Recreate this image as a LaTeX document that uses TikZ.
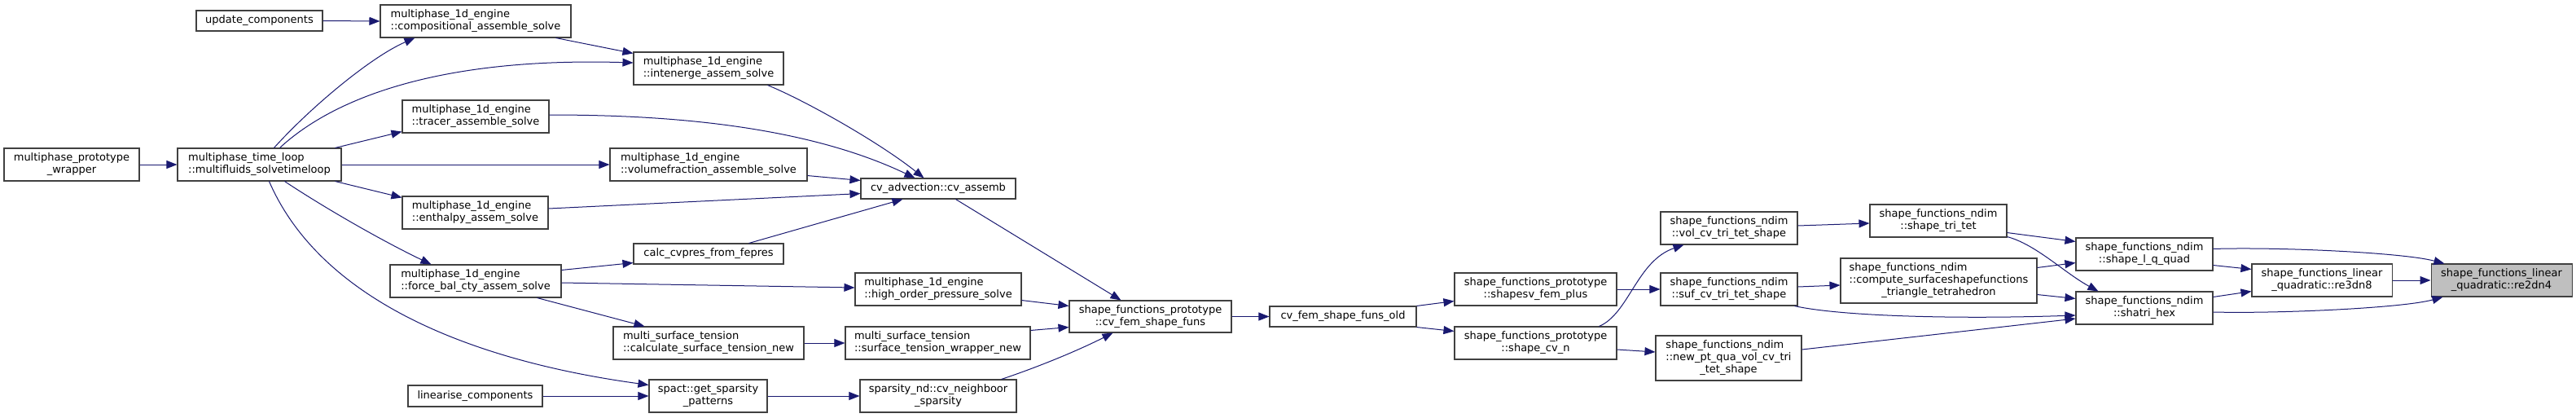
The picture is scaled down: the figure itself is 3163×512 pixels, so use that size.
\documentclass[tikz,border=0pt]{standalone}
\usepackage{fontspec}
\setmainfont{DejaVu Sans}
\usetikzlibrary{arrows.meta}
\definecolor{edgecol}{HTML}{191970}
\definecolor{bordercol}{HTML}{404040}
\definecolor{hlfill}{HTML}{BFBFBF}
\tikzset{
  nbox/.style={draw=bordercol, line width=0.8pt, fill=white, rectangle, inner sep=0pt,
    font=\fontsize{9.75pt}{11.25pt}\selectfont},
  callarrow/.style={draw=edgecol, line width=0.75pt, -{Triangle[length=9.75pt,width=7.5pt]}}
}
\newcommand\mknode[7][]{\node[nbox,#1,minimum width={(#5-#3)*0.75pt},minimum height={(#6-#4)*0.75pt}] (#2) at ({(#3+#5)/2},{(#4+#6)/2}) {#7};}
\newcommand\threel[3]{\begin{tabular}{@{}l@{}}#1\\#2\\\multicolumn{1}{@{}c@{}}{#3}\end{tabular}}
\begin{document}
\begin{tikzpicture}[x=0.75pt,y=-0.75pt]
\useasboundingbox (0,0) rectangle (3163,512);
\mknode{uc}{241}{13}{396}{38}{update\_components}
\mknode[align=left]{cas}{467}{6}{701}{46}{multiphase\_1d\_engine\\::compositional\_assemble\_solve}
\mknode[align=center]{pw}{5}{182}{171}{222}{multiphase\_prototype\\\_wrapper}
\mknode[align=left]{tl}{218}{182}{419}{222}{multiphase\_time\_loop\\::multifluids\_solvetimeloop}
\mknode[align=left]{tas}{494}{123}{674}{163}{multiphase\_1d\_engine\\::tracer\_assemble\_solve}
\mknode[align=left]{eas}{494}{241}{673}{281}{multiphase\_1d\_engine\\::enthalpy\_assem\_solve}
\mknode[align=left]{fb}{479}{325}{689}{365}{multiphase\_1d\_engine\\::force\_bal\_cty\_assem\_solve}
\mknode{lc}{501}{473}{666}{499}{linearise\_components}
\mknode[align=left]{ias}{778}{64}{962}{104}{multiphase\_1d\_engine\\::intenerge\_assem\_solve}
\mknode[align=left]{vfa}{749}{182}{991}{222}{multiphase\_1d\_engine\\::volumefraction\_assemble\_solve}
\mknode{ccp}{778}{299}{962}{324}{calc\_cvpres\_from\_fepres}
\mknode[align=left]{cst}{753}{401}{987}{441}{multi\_surface\_tension\\::calculate\_surface\_tension\_new}
\mknode[align=center]{gsp}{797}{466}{942}{506}{spact::get\_sparsity\\\_patterns}
\mknode{cva}{1057}{219}{1247}{244}{cv\_advection::cv\_assemb}
\mknode[align=left]{hop}{1050}{335}{1254}{375}{multiphase\_1d\_engine\\::high\_order\_pressure\_solve}
\mknode[align=left]{stw}{1038}{401}{1265}{441}{multi\_surface\_tension\\::surface\_tension\_wrapper\_new}
\mknode[align=center]{cns}{1056}{466}{1248}{506}{sparsity\_nd::cv\_neighboor\\\_sparsity}
\mknode[align=center]{cfs}{1313}{369}{1512}{408}{shape\_functions\_prototype\\::cv\_fem\_shape\_funs}
\mknode{cfo}{1559}{376}{1739}{401}{cv\_fem\_shape\_funs\_old}
\mknode[align=center]{sfp}{1786}{335}{1985}{375}{shape\_functions\_prototype\\::shapesv\_fem\_plus}
\mknode[align=center]{scn}{1786}{401}{1985}{441}{shape\_functions\_prototype\\::shape\_cv\_n}
\mknode[align=center]{vol}{2039}{260}{2207}{300}{shape\_functions\_ndim\\::vol\_cv\_tri\_tet\_shape}
\mknode[align=center]{suf}{2039}{335}{2207}{375}{shape\_functions\_ndim\\::suf\_cv\_tri\_tet\_shape}
\mknode{npq}{2033}{412}{2212}{467}{\threel{shape\_functions\_ndim}{::new\_pt\_qua\_vol\_cv\_tri}{\_tet\_shape}}
\mknode[align=center]{stt}{2296}{251}{2464}{291}{shape\_functions\_ndim\\::shape\_tri\_tet}
\mknode{css}{2260}{317}{2501}{372}{\threel{shape\_functions\_ndim}{::compute\_surfaceshapefunctions}{\_triangle\_tetrahedron}}
\mknode[align=center]{slq}{2549}{292}{2717}{332}{shape\_functions\_ndim\\::shape\_l\_q\_quad}
\mknode[align=center]{shx}{2549}{358}{2717}{398}{shape\_functions\_ndim\\::shatri\_hex}
\mknode[align=center]{r38}{2765}{324}{2937}{364}{shape\_functions\_linear\\\_quadratic::re3dn8}
\mknode[align=center,fill=hlfill]{r24}{2985}{324}{3158}{364}{shape\_functions\_linear\\\_quadratic::re2dn4}

\draw[callarrow] (uc.east) -- (cas.west);
\draw[callarrow] ([shift={(119,0)}]tl.north west) .. controls (380,133) and (455,70) .. ([shift={(43,0)}]cas.south west);
\draw[callarrow] ([shift={(126,0)}]tl.north west) .. controls (410,120) and (540,70) .. ([shift={(0,-7)}]ias.west);
\draw[callarrow] ([shift={(-8,0)}]tl.north east) -- ([shift={(0,-2)}]tas.south west);
\draw[callarrow] (tl.east) -- (vfa.west);
\draw[callarrow] ([shift={(-8,0)}]tl.south east) -- ([shift={(0,2)}]eas.north west);
\draw[callarrow] ([shift={(132,0)}]tl.south west) .. controls (400,256) and (470,296) .. ([shift={(51,0)}]fb.north west);
\draw[callarrow] ([shift={(113,0)}]tl.south west) .. controls (390,360) and (560,440) .. ([shift={(0,7)}]gsp.north west);
\draw[callarrow] (pw.east) -- (tl.west);
\draw[callarrow] (lc.east) -- (gsp.west);
\draw[callarrow] ([shift={(-19,0)}]cas.south east) -- ([shift={(0,2)}]ias.north west);
\draw[callarrow] ([shift={(-20,0)}]ias.south east) .. controls (990,124) and (1080,175) .. ([shift={(78,0)}]cva.north west);
\draw[callarrow] ([shift={(0,-2)}]tas.east) .. controls (800,141) and (980,150) .. ([shift={(67,0)}]cva.north west);
\draw[callarrow] ([shift={(0,-7)}]vfa.south east) -- ([shift={(0,3)}]cva.north west);
\draw[callarrow] ([shift={(0,-5)}]eas.east) -- ([shift={(0,-7)}]cva.south west);
\draw[callarrow] ([shift={(-43,0)}]ccp.north east) -- ([shift={(52,0)}]cva.south west);
\draw[callarrow] ([shift={(0,7)}]fb.north east) -- ([shift={(0,-2)}]ccp.south west);
\draw[callarrow] ([shift={(0,2)}]fb.east) -- ([shift={(0,-2)}]hop.west);
\draw[callarrow] ([shift={(-30,0)}]fb.south east) -- ([shift={(39,0)}]cst.north west);
\draw[callarrow] (cst.east) -- (stw.west);
\draw[callarrow] (gsp.east) -- (cns.west);
\draw[callarrow] ([shift={(117,0)}]cva.south west) -- ([shift={(64,0)}]cfs.north west);
\draw[callarrow] ([shift={(0,-7)}]hop.south east) -- ([shift={(0,7)}]cfs.north west);
\draw[callarrow] ([shift={(0,5)}]stw.north east) -- ([shift={(0,-7)}]cfs.south west);
\draw[callarrow] ([shift={(-19,0)}]cns.north east) .. controls (1270,452) and (1320,432) .. ([shift={(54,0)}]cfs.south west);
\draw[callarrow] (cfs.east) -- (cfo.west);
\draw[callarrow] (cfo.north east) -- ([shift={(0,-6)}]sfp.south west);
\draw[callarrow] (cfo.south east) -- ([shift={(0,6)}]scn.north west);
\draw[callarrow] (sfp.east) -- (suf.west);
\draw[callarrow] ([shift={(-22,0)}]scn.north east) .. controls (2000,385) and (2010,320) .. ([shift={(29,0)}]vol.south west);
\draw[callarrow] ([shift={(0,8)}]scn.east) -- ([shift={(0,-7.5)}]npq.west);
\draw[callarrow] ([shift={(0,-3)}]vol.east) -- ([shift={(0,3)}]stt.west);
\draw[callarrow] ([shift={(0,-3)}]suf.east) -- ([shift={(0,5.5)}]css.west);
\draw[callarrow] ([shift={(-4,0)}]suf.south east) .. controls (2260,388) and (2400,392) .. ([shift={(0,9)}]shx.west);
\draw[callarrow] ([shift={(0,-10.5)}]npq.east) -- ([shift={(0,13)}]shx.west);
\draw[callarrow] ([shift={(0,-6)}]stt.south east) -- ([shift={(0,5)}]slq.north west);
\draw[callarrow] ([shift={(0,-1)}]stt.south east) .. controls (2500,300) and (2535,335) .. ([shift={(28,0)}]shx.north west);
\draw[callarrow] ([shift={(0,12)}]css.north east) -- ([shift={(0,-10)}]slq.south west);
\draw[callarrow] ([shift={(0,-11)}]css.south east) -- ([shift={(0,9)}]shx.north west);
\draw[callarrow] ([shift={(0,-7)}]slq.south east) -- ([shift={(0,7)}]r38.north west);
\draw[callarrow] ([shift={(0,7)}]shx.north east) -- ([shift={(0,-7)}]r38.south west);
\draw[callarrow] ([shift={(0,14)}]slq.north east) .. controls (2800,303) and (2950,310) .. ([shift={(17,0)}]r24.north west);
\draw[callarrow] ([shift={(0,5)}]shx.east) .. controls (2800,385) and (2950,378) .. ([shift={(15,0)}]r24.south west);
\draw[callarrow] (r38.east) -- (r24.west);
\end{tikzpicture}
\end{document}
